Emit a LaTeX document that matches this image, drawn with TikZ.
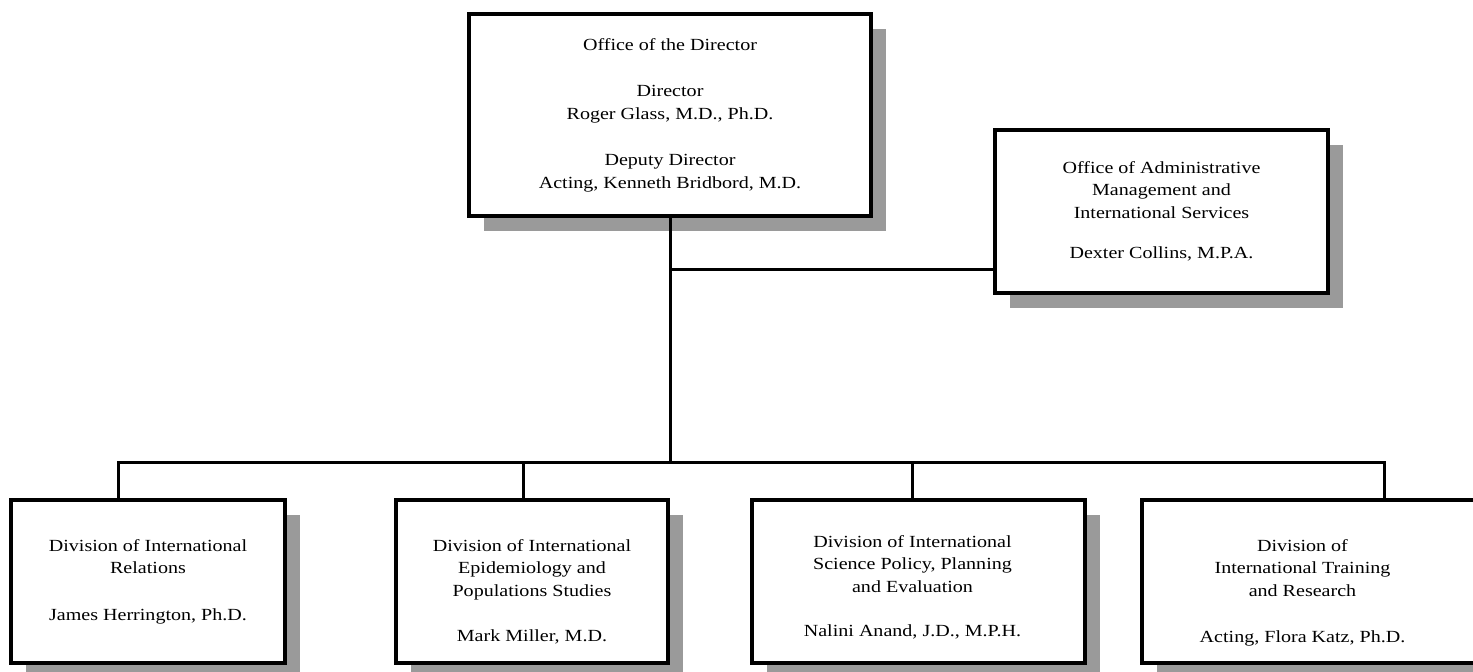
\documentclass[tikz,border=0pt]{standalone}
\usepackage{fontspec}
\setmainfont{Liberation Serif}[FakeStretch=1.18]
\definecolor{OrgShadow}{HTML}{9A9A9A}
\usetikzlibrary{shadows,positioning}

\begin{document}
\begin{tikzpicture}[x=1pt,y=-1pt,
    orgtext/.style={align=center,inner sep=0pt,font=\fontsize{17}{22.5}\selectfont},
    orgbox/.style={orgtext,draw,line width=4pt,fill=white,
      drop shadow={opacity=1,fill=OrgShadow,shadow xshift=15pt,shadow yshift=-15pt}},
    divbox/.style={orgbox,minimum height=163pt},
    orgline/.style={line width=3pt}]
  \useasboundingbox (0,0) rectangle (1473,672);
  % top level
  \node[orgbox,minimum width=402pt,minimum height=202pt] (dir) at (670,115)
    {Office of the Director\\[24pt]Director\\Roger Glass, M.D., Ph.D.\\[24pt]
     Deputy Director\\Acting, Kenneth Bridbord, M.D.};
  \node[orgbox,minimum width=333pt,minimum height=163pt] (adm) at (1161.5,211.5)
    {Office of Administrative\\Management and\\International Services\\[18pt]
     Dexter Collins, M.P.A.};
  % divisions
  \node[divbox,minimum width=274pt] (rel) at (148,581.5) {};
  \node[divbox,minimum width=272pt] (epi) at (532,581.5) {};
  \node[divbox,minimum width=333pt] (pol) at (918.5,581.5) {};
  \node[divbox,minimum width=333pt] (trn) at (1308.5,581.5) {};
  \node[orgtext,below=41pt of rel.north] (rel-t)
    {Division of International\\Relations\\[24pt]James Herrington, Ph.D.};
  \node[orgtext,below=41pt of epi.north] (epi-t)
    {Division of International\\Epidemiology and\\Populations Studies\\[23pt]
     Mark Miller, M.D.};
  \node[orgtext,below=37pt of pol.north,xshift=-6pt] (pol-t)
    {Division of International\\Science Policy, Planning\\and Evaluation\\[22pt]
     Nalini Anand, J.D., M.P.H.};
  \node[orgtext,below=41pt of trn.north,xshift=-6pt] (trn-t)
    {Division of\\International Training\\and Research\\[24pt]
     Acting, Flora Katz, Ph.D.};
  % connectors
  \coordinate (trunk) at (670,462);
  \coordinate (tee) at (670,269);
  \draw[orgline] (dir) -- (trunk);
  \draw[orgline] (tee) -- (adm.west |- tee);
  \foreach \b/\x in {rel/118,epi/523,pol/912,trn/1384}
    \coordinate (s-\b) at (\x,462);
  \draw[orgline] (s-rel |- rel.north) -- (s-rel) -- (s-trn) -- (s-trn |- trn.north);
  \draw[orgline] (s-epi) -- (s-epi |- epi.north);
  \draw[orgline] (s-pol) -- (s-pol |- pol.north);
\end{tikzpicture}
\end{document}
